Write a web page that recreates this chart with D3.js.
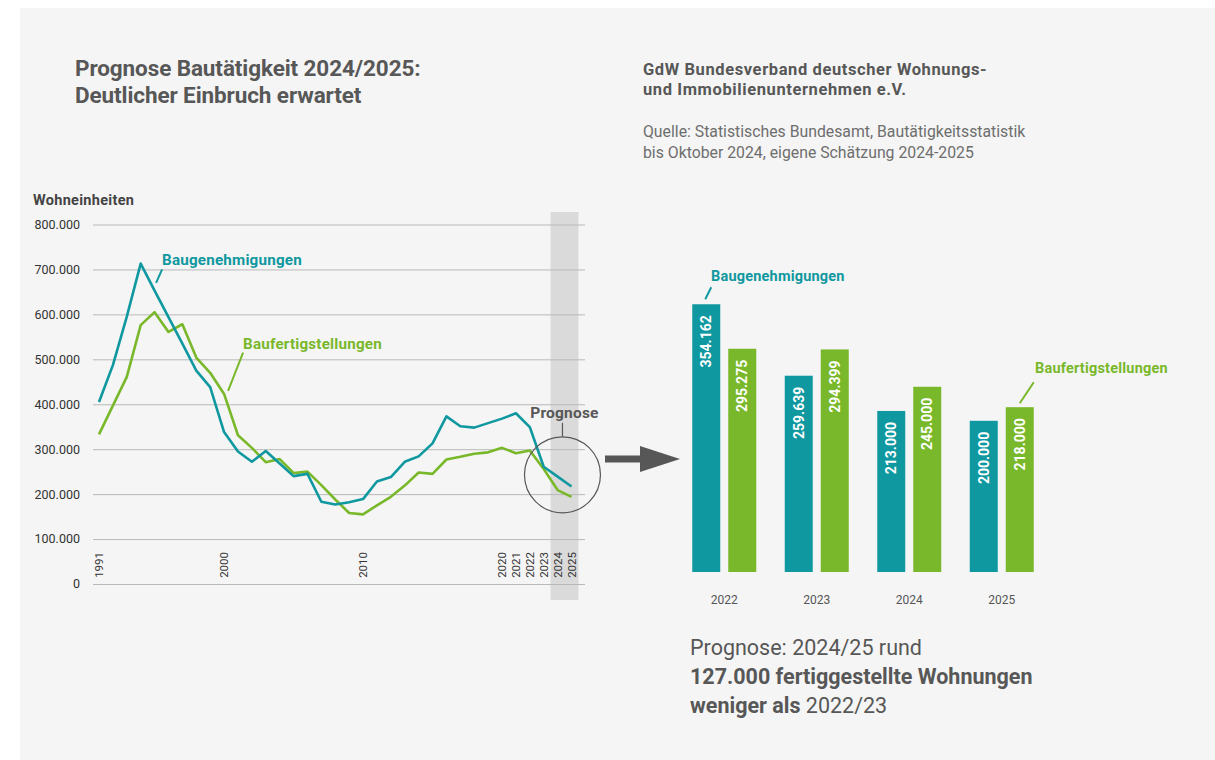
<!DOCTYPE html>
<html>
<head>
<meta charset="utf-8">
<script src="https://cdn.jsdelivr.net/npm/d3@7"></script>
<style>
	body { margin: 0; background: #fff; }
	svg text { font-family: Roboto, "Noto Sans", sans-serif; }
</style>
</head>
<body>
<svg id="chart" width="1215" height="760"></svg>
<script>
// line chart data, 1991..2025 (Wohneinheiten)
var years = d3.range(1991, 2026);
var genehmigungen = [405000, 487000, 595000, 713000, 653000, 594000, 535000, 475000, 438000, 338000,
	295000, 272000, 296000, 268000, 240000, 245000, 183000, 177000, 182000, 189000,
	228000, 238000, 272000, 284000, 313000, 373000, 351000, 348000, 358000, 368000,
	380000, 349000, 261000, 239000, 217000];
var fertigstellungen = [333000, 397000, 461000, 576000, 605000, 561000, 578000, 504000, 470000, 423000,
	331000, 303000, 271000, 278000, 247000, 250000, 220000, 188000, 158000, 155000,
	175000, 194000, 219000, 248000, 245000, 277000, 283000, 290000, 293000, 303000,
	291000, 297000, 256000, 209000, 194000];
var yTicks = d3.range(0, 800001, 100000);
var xTickYears = [1991, 2000, 2010, 2020, 2021, 2022, 2023, 2024, 2025];

// bar chart data
var barYears = ["2022", "2023", "2024", "2025"];
var barGenehmigungen = [354162, 259639, 213000, 200000];
var barFertigstellungen = [295275, 294399, 245000, 218000];

var teal = "#0f989f",
	green = "#79b82a",
	grey = "#575757";

var de = d3.formatLocale({decimal: ",", thousands: ".", grouping: [3], currency: ["", " €"]});
var fmt = de.format(",.0f");

var svg = d3.select("#chart");

// panel
svg.append("rect").attr("x", 20).attr("y", 8).attr("width", 1195).attr("height", 752).attr("fill", "#f5f5f5");

// headings
var title = svg.append("text").attr("x", 75).attr("y", 76)
	.attr("font-size", 22.5).attr("font-weight", "bold").attr("fill", grey).attr("letter-spacing", -0.1);
title.append("tspan").attr("x", 75).text("Prognose Bautätigkeit 2024/2025:");
title.append("tspan").attr("x", 75).attr("dy", 27).text("Deutlicher Einbruch erwartet");

var org = svg.append("text").attr("x", 643).attr("y", 75)
	.attr("font-size", 16.5).attr("font-weight", "bold").attr("fill", grey).attr("letter-spacing", 0.6);
org.append("tspan").attr("x", 643).text("GdW Bundesverband deutscher Wohnungs-");
org.append("tspan").attr("x", 643).attr("dy", 20).text("und Immobilienunternehmen e.V.");

var src = svg.append("text").attr("x", 643).attr("y", 137)
	.attr("font-size", 15.8).attr("fill", "#6e6e6e");
src.append("tspan").attr("x", 643).text("Quelle: Statistisches Bundesamt, Bautätigkeitsstatistik");
src.append("tspan").attr("x", 643).attr("dy", 21).text("bis Oktober 2024, eigene Schätzung 2024-2025");

// ---------- line chart ----------
var x = d3.scaleLinear().domain([1991, 2025]).range([99, 571.5]);
var y = d3.scaleLinear().domain([0, 800000]).range([584, 224.5]);

// forecast band
svg.append("rect")
	.attr("x", x(2023.5)).attr("y", 212)
	.attr("width", x(2025.5) - x(2023.5)).attr("height", 388)
	.attr("fill", "#dadada");

var yAxis = svg.append("g").attr("transform", "translate(93,0)")
	.call(d3.axisRight(y).tickValues(yTicks).tickSize(492).tickFormat(""));
yAxis.select(".domain").remove();
yAxis.selectAll(".tick line").attr("stroke", "#b9b9b9").attr("stroke-width", 1);

svg.append("g").selectAll("text").data(yTicks).join("text")
	.attr("x", 80).attr("y", d => y(d)).attr("dy", "0.35em")
	.attr("text-anchor", "end").attr("font-size", 12.5).attr("fill", "#333")
	.text(d => fmt(d));

svg.append("text").attr("x", 33).attr("y", 205)
	.attr("font-size", 14.5).attr("font-weight", "bold").attr("fill", "#444").attr("letter-spacing", 0.3)
	.text("Wohneinheiten");

svg.append("g").selectAll("text").data(xTickYears).join("text")
	.attr("transform", d => "translate(" + x(d) + ",552) rotate(-90)")
	.attr("dy", "0.36em").attr("text-anchor", "end")
	.attr("font-size", 11.5).attr("fill", "#333")
	.text(d => d);

var line = d3.line().x((d, i) => x(years[i])).y(d => y(d));

svg.append("path").datum(fertigstellungen).attr("d", line)
	.attr("fill", "none").attr("stroke", green).attr("stroke-width", 2.6).attr("stroke-linejoin", "round");
svg.append("path").datum(genehmigungen).attr("d", line)
	.attr("fill", "none").attr("stroke", teal).attr("stroke-width", 2.6).attr("stroke-linejoin", "round");

// series labels
function label(tx, ty, text, color, size, lx1, ly1, lx2, ly2) {
	svg.append("line").attr("x1", lx1).attr("y1", ly1).attr("x2", lx2).attr("y2", ly2)
		.attr("stroke", color).attr("stroke-width", 2);
	svg.append("text").attr("x", tx).attr("y", ty)
		.attr("font-size", size).attr("font-weight", "bold").attr("fill", color).attr("letter-spacing", 0.2)
		.text(text);
}
label(162, 265, "Baugenehmigungen", teal, 15.2, x(1995) + 1.5, y(670000), x(1995) + 7.5, y(700000));
label(243, 349, "Baufertigstellungen", green, 15.2, x(2000) + 4, y(430000), x(2000) + 19, y(515000));

// Prognose circle
var cx = x(2024.35), cy = y(243000);
svg.append("circle").attr("cx", cx).attr("cy", cy).attr("r", 38)
	.attr("fill", "none").attr("stroke", grey).attr("stroke-width", 1.2);
svg.append("line").attr("x1", cx).attr("x2", cx).attr("y1", cy - 38).attr("y2", cy - 52)
	.attr("stroke", grey).attr("stroke-width", 1.2);
svg.append("text").attr("x", cx + 2).attr("y", cy - 57).attr("text-anchor", "middle")
	.attr("font-size", 15.5).attr("font-weight", "bold").attr("fill", grey).attr("letter-spacing", 0.2)
	.text("Prognose");

// arrow
svg.append("rect").attr("x", 605).attr("y", 455.5).attr("width", 37).attr("height", 7).attr("fill", grey);
svg.append("polygon").attr("points", "640,446 680,459 640,472").attr("fill", grey);

// ---------- bar chart ----------
var bx = d3.scaleBand().domain(barYears).range([678, 1048]).paddingInner(0);
var by = d3.scaleLinear().domain([0, 400000]).range([572, 269.6]);
var bw = 28, gap = 8;

var groups = svg.append("g").selectAll("g").data(barYears).join("g")
	.attr("transform", d => "translate(" + (bx(d) + bx.bandwidth() / 2) + ",0)");

groups.append("rect")
	.attr("x", -bw - gap / 2).attr("width", bw)
	.attr("y", (d, i) => by(barGenehmigungen[i]))
	.attr("height", (d, i) => by(0) - by(barGenehmigungen[i]))
	.attr("fill", teal);
groups.append("rect")
	.attr("x", gap / 2).attr("width", bw)
	.attr("y", (d, i) => by(barFertigstellungen[i]))
	.attr("height", (d, i) => by(0) - by(barFertigstellungen[i]))
	.attr("fill", green);

groups.append("text")
	.attr("transform", (d, i) => "translate(" + (-bw / 2 - gap / 2) + "," + (by(barGenehmigungen[i]) + 11) + ") rotate(-90)")
	.attr("dy", "0.36em").attr("text-anchor", "end")
	.attr("font-size", 14).attr("font-weight", "bold").attr("fill", "#fff")
	.text((d, i) => fmt(barGenehmigungen[i]));
groups.append("text")
	.attr("transform", (d, i) => "translate(" + (bw / 2 + gap / 2) + "," + (by(barFertigstellungen[i]) + 11) + ") rotate(-90)")
	.attr("dy", "0.36em").attr("text-anchor", "end")
	.attr("font-size", 14).attr("font-weight", "bold").attr("fill", "#fff")
	.text((d, i) => fmt(barFertigstellungen[i]));

groups.append("text").attr("y", 604).attr("text-anchor", "middle")
	.attr("font-size", 12).attr("fill", "#555")
	.text(d => d);

// bar labels
var g0 = bx("2022") + bx.bandwidth() / 2, g3 = bx("2025") + bx.bandwidth() / 2;
label(711, 281, "Baugenehmigungen", teal, 14.5,
	g0 - 19, by(barGenehmigungen[0]) - 5, g0 - 13, by(barGenehmigungen[0]) - 17);
label(1035, 373, "Baufertigstellungen", green, 14.5,
	g3 + 18, by(barFertigstellungen[3]) - 4, g3 + 32, by(barFertigstellungen[3]) - 25);

// bottom note
var note = svg.append("text").attr("x", 690).attr("y", 655)
	.attr("font-size", 21.5).attr("fill", grey);
note.append("tspan").attr("x", 690).text("Prognose: 2024/25 rund");
note.append("tspan").attr("x", 690).attr("dy", 29).attr("font-weight", "bold").text("127.000 fertiggestellte Wohnungen");
var l3 = note.append("tspan").attr("x", 690).attr("dy", 29);
l3.append("tspan").attr("font-weight", "bold").text("weniger als");
l3.append("tspan").text(" 2022/23");
</script>
</body>
</html>
